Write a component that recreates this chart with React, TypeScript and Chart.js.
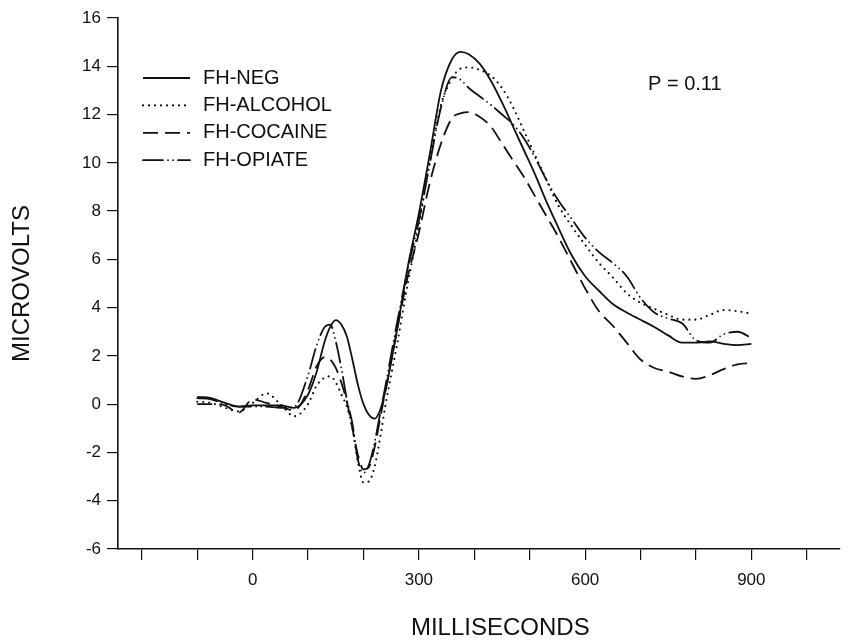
import React, { useEffect, useRef } from 'react';
import { Chart, registerables } from 'chart.js';

Chart.register(...registerables);

// ---- data (milliseconds / microvolts) ----
const TIMES = [-100, -75, -50, -25, 0, 25, 50, 75, 100, 115, 130, 140, 150, 160, 170, 180, 190, 200, 210, 220, 230, 240, 260, 280, 300, 320, 340, 360, 375, 390, 410, 430, 450, 470, 490, 510, 530, 550, 575, 600, 625, 650, 675, 700, 725, 750, 775, 800, 825, 850, 875, 900];

const FH_NEG = [0.3, 0.25, 0.05, -0.1, -0.05, -0.05, -0.05, -0.15, 0.4, 1.3, 2.6, 3.2, 3.48, 3.3, 2.8, 1.85, 0.8, 0.0, -0.45, -0.6, -0.25, 0.6, 3.0, 5.7, 7.9, 10.4, 13.0, 14.3, 14.6, 14.5, 14.1, 13.4, 12.5, 11.5, 10.5, 9.5, 8.4, 7.4, 6.2, 5.3, 4.7, 4.15, 3.8, 3.5, 3.2, 2.85, 2.55, 2.55, 2.6, 2.5, 2.45, 2.5];

const FH_ALCOHOL = [0.1, 0.05, -0.15, -0.3, 0.05, 0.45, 0.0, -0.5, 0.0, 0.75, 1.1, 1.15, 0.9, 0.4, -0.1, -1.0, -2.4, -3.25, -3.2, -2.6, -1.4, 0.0, 2.4, 5.0, 7.4, 10.1, 12.4, 13.5, 13.9, 13.95, 13.85, 13.6, 13.1, 12.3, 11.3, 10.3, 9.3, 8.3, 7.4, 6.6, 5.85, 5.25, 4.6, 4.2, 3.95, 3.7, 3.5, 3.5, 3.7, 3.9, 3.85, 3.75];

const FH_COCAINE = [0.0, 0.0, -0.05, -0.35, 0.2, 0.05, -0.1, -0.25, 0.6, 1.55, 1.95, 1.85, 1.5, 0.9, 0.1, -1.0, -2.1, -2.7, -2.6, -1.8, -0.6, 0.6, 3.0, 5.3, 7.1, 9.2, 10.8, 11.85, 12.05, 12.1, 11.9, 11.5, 10.8, 10.1, 9.4, 8.6, 7.8, 7.0, 5.9, 4.8, 3.85, 3.25, 2.55, 1.85, 1.5, 1.35, 1.15, 1.05, 1.2, 1.45, 1.65, 1.7];

const FH_OPIATE = [0.25, 0.2, 0.0, -0.1, -0.1, -0.1, -0.15, -0.1, 1.2, 2.4, 3.2, 3.3, 2.6, 1.5, 0.2, -0.8, -2.3, -2.85, -2.5, -1.6, -0.4, 0.8, 3.3, 5.6, 7.6, 10.0, 12.3, 13.55, 13.45, 13.1, 12.75, 12.4, 12.0, 11.6, 11.0, 10.2, 9.3, 8.5, 7.7, 6.9, 6.3, 5.85, 5.3, 4.4, 3.8, 3.55, 3.35, 2.65, 2.55, 2.9, 3.0, 2.75];

const SERIES_NAMES = ['FH-NEG', 'FH-ALCOHOL', 'FH-COCAINE', 'FH-OPIATE'];
const X_TICKS = [-200, -100, 0, 100, 200, 300, 400, 500, 600, 700, 800, 900, 1000];
const X_LABELED_TICKS = [0, 300, 600, 900];
const X_TITLE = 'MILLISECONDS';
const Y_TITLE = 'MICROVOLTS';
const P_TEXT = 'P = 0.11';

const FONT = '"Liberation Sans", Arial, sans-serif';

const STYLES = [
  { borderWidth: 1.8, borderDash: [] as number[], borderCapStyle: 'butt' },
  { borderWidth: 2.2, borderDash: [0, 6], borderCapStyle: 'round' },
  { borderWidth: 1.8, borderDash: [15, 7], borderCapStyle: 'butt' },
  { borderWidth: 1.8, borderDash: [20, 5, 0, 5, 0, 5], borderCapStyle: 'round' },
];

const overlayPlugin = {
  id: 'overlay',
  afterDraw(chart: any) {
    const { ctx, chartArea } = chart;
    const { left, top } = chartArea;
    ctx.save();
    ctx.fillStyle = '#111';
    ctx.strokeStyle = '#111';
    ctx.font = `20px ${FONT}`;
    ctx.textBaseline = 'middle';
    ctx.textAlign = 'left';
    chart.data.datasets.forEach((ds: any, i: number) => {
      const y = top + 60 + i * 27.4;
      ctx.save();
      ctx.lineWidth = ds.borderWidth;
      ctx.setLineDash(ds.borderDash || []);
      ctx.lineCap = ds.borderCapStyle || 'butt';
      ctx.beginPath();
      ctx.moveTo(left + 25, y);
      ctx.lineTo(left + 72, y);
      ctx.stroke();
      ctx.restore();
      ctx.fillText(ds.label, left + 85, y);
    });
    ctx.fillText(P_TEXT, left + 530, top + 66);
    // x-axis title
    ctx.font = `24px ${FONT}`;
    ctx.textAlign = 'center';
    const xs = chart.scales.x;
    ctx.fillText(X_TITLE, (xs.getPixelForValue(X_TICKS[0]) + xs.getPixelForValue(X_TICKS[X_TICKS.length - 1])) / 2 + 26, chart.height - 15);
    ctx.restore();
  },
};

export default function App() {
  const ref = useRef<HTMLCanvasElement>(null);
  useEffect(() => {
    if (!ref.current) return;
    const series = [FH_NEG, FH_ALCOHOL, FH_COCAINE, FH_OPIATE];
    const chart = new Chart(ref.current, {
      type: 'line',
      data: {
        datasets: series.map((vals, i) => ({
          label: SERIES_NAMES[i],
          data: TIMES.map((t, j) => ({ x: t, y: vals[j] })),
          borderColor: '#111',
          backgroundColor: '#111',
          pointRadius: 0,
          fill: false,
          cubicInterpolationMode: 'monotone',
          ...STYLES[i],
        })) as any,
      },
      options: {
        animation: false,
        responsive: false,
        events: [],
        layout: { padding: { left: 0, top: 18, right: 13, bottom: 0 } },
        plugins: { legend: { display: false }, tooltip: { enabled: false } },
        scales: {
          x: {
            type: 'linear',
            min: -243,
            max: 1060,
            afterBuildTicks: (s: any) => { s.ticks = X_TICKS.map((v) => ({ value: v })); },
            afterFit: (s: any) => { s.height = 94; },
            border: { display: true, color: '#111', width: 1.6 },
            grid: { drawOnChartArea: false, drawTicks: true, tickLength: 11, color: '#111', lineWidth: 1.2 },
            ticks: {
              autoSkip: false,
              maxRotation: 0,
              padding: 10,
              color: '#111',
              font: { family: FONT, size: 17 },
              callback: (v: any) => (X_LABELED_TICKS.includes(Number(v)) ? String(v) : ''),
            },
            title: { display: false },
          },
          y: {
            type: 'linear',
            min: -6,
            max: 16,
            afterFit: (s: any) => { s.width = 118; },
            border: { display: true, color: '#111', width: 1.6 },
            grid: { drawOnChartArea: false, drawTicks: true, tickLength: 11, color: '#111', lineWidth: 1.2 },
            ticks: {
              stepSize: 2,
              padding: 6,
              color: '#111',
              font: { family: FONT, size: 17 },
            },
            title: { display: true, text: Y_TITLE, color: '#111', font: { family: FONT, size: 24 }, padding: { top: 8, bottom: 0 } },
          },
        },
      },
      plugins: [overlayPlugin],
    });
    return () => chart.destroy();
  }, []);
  return (
    <div style={{ position: 'absolute', left: 0, top: 0, width: 853, height: 643, background: '#fff' }}>
      <canvas ref={ref} width={853} height={643} style={{ display: 'block' }} />
    </div>
  );
}
